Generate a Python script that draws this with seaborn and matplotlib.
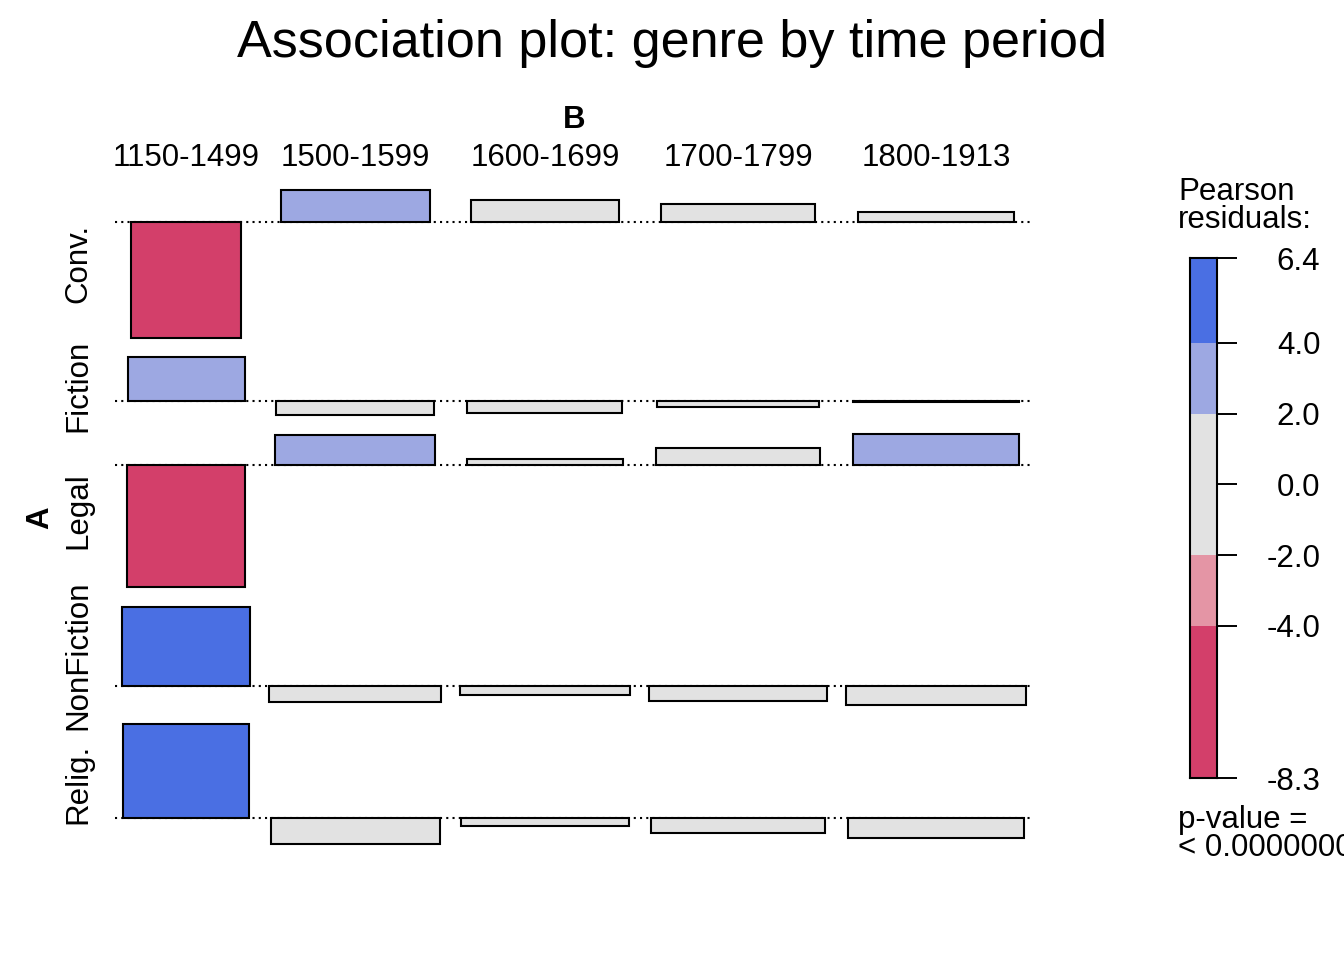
import numpy as np
import pandas as pd
import matplotlib
matplotlib.use("Agg")
import matplotlib.pyplot as plt
import seaborn as sns

genres = ["Conv.", "Fiction", "Legal", "NonFiction", "Relig."]
periods = ["1150-1499", "1500-1599", "1600-1699", "1700-1799", "1800-1913"]

# Pearson residuals per genre
res_conv = [-7.82, 2.18, 1.50, 1.22, 0.68]
res_fiction = [2.99, -0.95, -0.82, -0.41, -0.07]
res_legal = [-8.30, 2.05, 0.40, 1.15, 2.10]
res_nonfiction = [5.37, -1.09, -0.61, -1.02, -1.29]
res_relig = [6.40, -1.77, -0.54, -1.02, -1.36]

# sqrt(expected) -> bar widths (relative)
w_conv = [1.10, 1.49, 1.47, 1.54, 1.55]
w_fiction = [1.17, 1.58, 1.55, 1.62, 1.66]
w_legal = [1.18, 1.60, 1.56, 1.64, 1.66]
w_nonfiction = [1.28, 1.72, 1.70, 1.78, 1.80]
w_relig = [1.26, 1.69, 1.67, 1.74, 1.76]

legend_breaks = [-8.3, -4.0, -2.0, 0.0, 2.0, 4.0, 6.4]
band_colors = ["#D33F6A", "#E495A5", "#E2E2E2", "#E2E2E2", "#9DA8E2", "#4A6FE3"]
pvalue_text = "p-value =\n< 0.000000000"

res = pd.DataFrame([res_conv, res_fiction, res_legal, res_nonfiction, res_relig],
                   index=genres, columns=periods)
wid = pd.DataFrame([w_conv, w_fiction, w_legal, w_nonfiction, w_relig],
                   index=genres, columns=periods)


def shade(r):
    if r > 4:
        return "#4A6FE3"
    if r > 2:
        return "#9DA8E2"
    if r < -4:
        return "#D33F6A"
    if r < -2:
        return "#E495A5"
    return "#E2E2E2"


sns.set_theme(style="white")
plt.rcParams["font.family"] = ["Liberation Sans", "DejaVu Sans"]
plt.rcParams["text.color"] = "black"
plt.rcParams["ytick.color"] = "black"
plt.rcParams["xtick.color"] = "black"
FS = 22.5

# layout: columns as wide as widest bar, rows as tall as residual range
gap_x = 0.19
gap_y = 1.3
col_w = wid.max(axis=0).values
col_left = np.concatenate([[0], np.cumsum(col_w + gap_x)[:-1]])
col_ctr = col_left + col_w / 2
total_x = col_left[-1] + col_w[-1]

up = res.clip(lower=0).max(axis=1)
down = (-res).clip(lower=0).max(axis=1)
base, centers = [], []
y = 0.0
for g in genres:
    top = y
    y -= up[g]
    base.append(y)
    y -= down[g]
    centers.append((top + y) / 2)
    y -= gap_y
total_y = -(y + gap_y)

W, H = 1344, 960
XS, YS = 100.0, 14.75
pad = 0.07
ax_l, ax_t = 122 - pad * XS, 190
ax_w, ax_h = (total_x + 2 * pad) * XS, total_y * YS

fig = plt.figure(figsize=(W / 100, H / 100), dpi=100)
ax = fig.add_axes([ax_l / W, 1 - (ax_t + ax_h) / H, ax_w / W, ax_h / H])
ax.set_xlim(-pad, total_x + pad)
ax.set_ylim(-total_y, 0)
ax.axis("off")

for i, g in enumerate(genres):
    ax.plot([-pad, total_x + pad], [base[i], base[i]], color="black",
            lw=1.5, linestyle=(0, (1, 2)), zorder=1, clip_on=False)
    ax.bar(col_ctr, res.loc[g].values, width=wid.loc[g].values, bottom=base[i],
           color=[shade(r) for r in res.loc[g].values], edgecolor="black",
           linewidth=1.5, zorder=2, clip_on=False)
    ax.annotate(g, xy=(0, centers[i]), xycoords=("axes fraction", "data"),
                xytext=(-37, 0), textcoords="offset pixels", rotation=90,
                ha="center", va="center", fontsize=FS)

for j, p in enumerate(periods):
    ax.annotate(p, xy=(col_ctr[j], 1), xycoords=("data", "axes fraction"),
                xytext=(0, 32), textcoords="offset pixels",
                ha="center", va="center", fontsize=FS)

ax.annotate("B", xy=(total_x / 2, 1), xycoords=("data", "axes fraction"),
            xytext=(0, 70), textcoords="offset pixels", ha="center", va="center",
            fontsize=FS, fontweight="bold")
ax.annotate("A", xy=(0, 0.5), xycoords="axes fraction", xytext=(-75, 0),
            textcoords="offset pixels", rotation=90, ha="center", va="center",
            fontsize=FS, fontweight="bold")

fig.text(0.5, 1 - 44 / H, "Association plot: genre by time period",
         ha="center", va="center", fontsize=37.5)

# legend bar
cax = fig.add_axes([1190 / W, 1 - 778 / H, 27 / W, 520 / H])
lo, hi = legend_breaks[:-1], legend_breaks[1:]
cax.bar(0.5, np.subtract(hi, lo), bottom=lo, width=1, color=band_colors,
        linewidth=0)
cax.set_xlim(0, 1)
cax.set_ylim(legend_breaks[0], legend_breaks[-1])
cax.set_xticks([])
cax.yaxis.tick_right()
cax.set_yticks(legend_breaks)
cax.set_yticklabels([f"{v:.1f}" for v in legend_breaks])
cax.tick_params(axis="y", right=True, length=14.4, width=1.4, pad=60,
                labelsize=FS, colors="black")
for lab in cax.get_yticklabels():
    lab.set_horizontalalignment("right")
for s in cax.spines.values():
    s.set_color("black")
    s.set_linewidth(1.5)

fig.text(1178 / W, 1 - 206 / H, "Pearson\nresiduals:", ha="left", va="center",
         fontsize=FS, linespacing=0.95)
fig.text(1178 / W, 1 - 834 / H, pvalue_text, ha="left", va="center",
         fontsize=FS, linespacing=0.95)

fig.savefig("out.png", dpi=100)
